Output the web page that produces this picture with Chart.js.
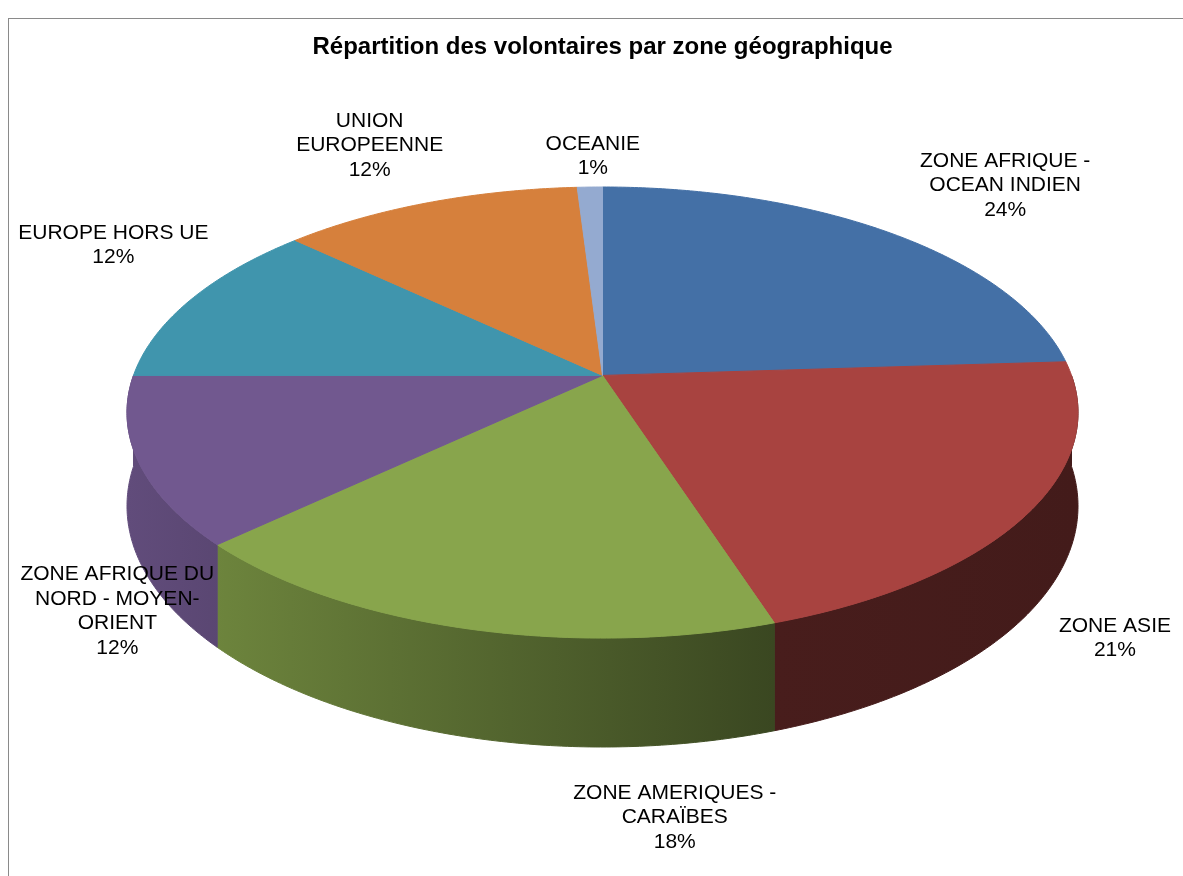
<!DOCTYPE html>
<html lang="fr">
<head>
<meta charset="utf-8">
<title>Répartition des volontaires par zone géographique</title>
<script src="https://cdn.jsdelivr.net/npm/chart.js@4/dist/chart.umd.min.js"></script>
<style>
  html, body { margin: 0; padding: 0; background: #fff; }
  canvas { display: block; }
</style>
</head>
<body>
<canvas id="zones" width="1183" height="876"></canvas>
<script>
// Zones, in drawing order (clockwise from 12 o'clock)
const zones = [
  ['ZONE AFRIQUE -', 'OCEAN INDIEN'],
  ['ZONE ASIE'],
  ['ZONE AMERIQUES -', 'CARAÏBES'],
  ['ZONE AFRIQUE DU', 'NORD - MOYEN-', 'ORIENT'],
  ['EUROPE HORS UE'],
  ['UNION', 'EUROPEENNE'],
  ['OCEANIE']
];
// Share of volunteers, %
const shares = [24, 21, 18, 12, 12, 12, 1];

const sliceColors = ['#4470a6', '#a84340', '#88a54c', '#71588f', '#4095ad', '#d6803c', '#94aad0'];
// label nudges from the rim point at each slice's middle angle
const labelNudge = [[116, -47], [85, 127], [211, 189], [-21, 150], [-78, -54], [-59, -57], [3, -31]];

const DEPTH = 91;      // thickness of the pie
const PERSP = 0.1646;  // how much nearer rim points grow
const FONT = '"Liberation Sans", Arial, sans-serif';

function shade(hex, f) {
  const n = parseInt(hex.slice(1), 16);
  const r = Math.round(((n >> 16) & 255) * f);
  const g = Math.round(((n >> 8) & 255) * f);
  const b = Math.round((n & 255) * f);
  return `rgb(${r},${g},${b})`;
}

// fit the tilted disc into the chart area
function pieGeom(chart) {
  const a = chart.chartArea;
  const p = PERSP;
  const rx = (a.right - a.left) / 2;
  const A = rx * Math.sqrt(1 - p * p);
  const B = (a.bottom - a.top - DEPTH / (1 - p)) / (1 / (1 + p) + 1 / (1 - p));
  return { cx: a.left + rx, cy: a.top + B / (1 + p), A, B, p, rx };
}

// rim point at canvas angle t (v > 0 is toward the viewer)
function rim(g, t, drop = 0) {
  const u = Math.cos(t), v = Math.sin(t);
  const w = 1 - g.p * v;
  return { x: g.cx + g.A * u / w, y: g.cy + g.B * v / w + drop / w };
}

function tracePath(ctx, g, a0, a1, drop, first) {
  const n = Math.max(2, Math.ceil(Math.abs(a1 - a0) / 0.01));
  for (let k = 0; k <= n; k++) {
    const pt = rim(g, a0 + (a1 - a0) * k / n, drop);
    if (first && k === 0) ctx.moveTo(pt.x, pt.y); else ctx.lineTo(pt.x, pt.y);
  }
}

const tiltedPie = {
  id: 'tiltedPie',
  beforeDraw(chart) {
    const ctx = chart.ctx;
    ctx.save();
    ctx.fillStyle = '#fff';
    ctx.fillRect(0, 0, chart.width, chart.height);
    ctx.strokeStyle = '#8a8a8a';
    ctx.lineWidth = 1;
    ctx.strokeRect(8.5, 18.5, chart.width + 20, chart.height + 20);
    ctx.restore();
  },
  beforeDatasetsDraw(chart) {
    const ctx = chart.ctx;
    const g = pieGeom(chart);
    const arcs = chart.getDatasetMeta(0).data;
    ctx.save();
    ctx.lineJoin = 'round';
    ctx.lineWidth = 1;

    // front wall: only the part of each slice facing the viewer
    arcs.forEach((arc, i) => {
      const a0 = Math.max(arc.startAngle, 0);
      const a1 = Math.min(arc.endAngle, Math.PI);
      if (a1 <= a0) return;
      const col = arc.options.backgroundColor;
      const grad = ctx.createLinearGradient(g.cx - g.rx, 0, g.cx + g.rx, 0);
      grad.addColorStop(0, shade(col, 0.86));
      grad.addColorStop(0.68, shade(col, 0.43));
      grad.addColorStop(1, shade(col, 0.40));
      ctx.beginPath();
      tracePath(ctx, g, a0, a1, 0, true);
      tracePath(ctx, g, a1, a0, DEPTH, false);
      ctx.closePath();
      ctx.fillStyle = grad;
      ctx.strokeStyle = grad;
      ctx.fill();
      ctx.stroke();
    });

    // top face, one sector per arc element
    arcs.forEach(arc => {
      const col = arc.options.backgroundColor;
      ctx.beginPath();
      ctx.moveTo(g.cx, g.cy);
      tracePath(ctx, g, arc.startAngle, arc.endAngle, 0, false);
      ctx.closePath();
      ctx.fillStyle = col;
      ctx.strokeStyle = col;
      ctx.fill();
      ctx.stroke();
    });
    ctx.restore();
    return false;
  },
  afterDraw(chart) {
    const ctx = chart.ctx;
    const g = pieGeom(chart);
    const total = shares.reduce((s, v) => s + v, 0);
    ctx.save();
    ctx.fillStyle = '#000';
    ctx.font = '21px ' + FONT;
    ctx.textAlign = 'center';
    ctx.textBaseline = 'middle';
    const lh = 24.5;
    chart.getDatasetMeta(0).data.forEach((arc, i) => {
      const mid = (arc.startAngle + arc.endAngle) / 2;
      const pt = rim(g, mid);
      const x = pt.x + labelNudge[i][0];
      const y = pt.y + labelNudge[i][1];
      const lines = zones[i].concat(Math.round(shares[i] / total * 100) + '%');
      const top = y - (lines.length - 1) * lh / 2;
      lines.forEach((t, k) => ctx.fillText(t, x, top + k * lh));
    });
    ctx.restore();
  }
};

new Chart(document.getElementById('zones'), {
  type: 'pie',
  data: {
    labels: zones,
    datasets: [{
      data: shares,
      backgroundColor: sliceColors,
      borderWidth: 0
    }]
  },
  options: {
    responsive: false,
    animation: false,
    events: [],
    layout: { padding: { left: 127, right: 105, top: 0, bottom: 129 } },
    plugins: {
      legend: { display: false },
      tooltip: { enabled: false },
      title: {
        display: true,
        text: 'Répartition des volontaires par zone géographique',
        color: '#000',
        font: { family: FONT, size: 24, weight: 'bold', lineHeight: 1.2 },
        padding: { top: 33, bottom: 125.2 }
      }
    }
  },
  plugins: [tiltedPie]
});
</script>
</body>
</html>
